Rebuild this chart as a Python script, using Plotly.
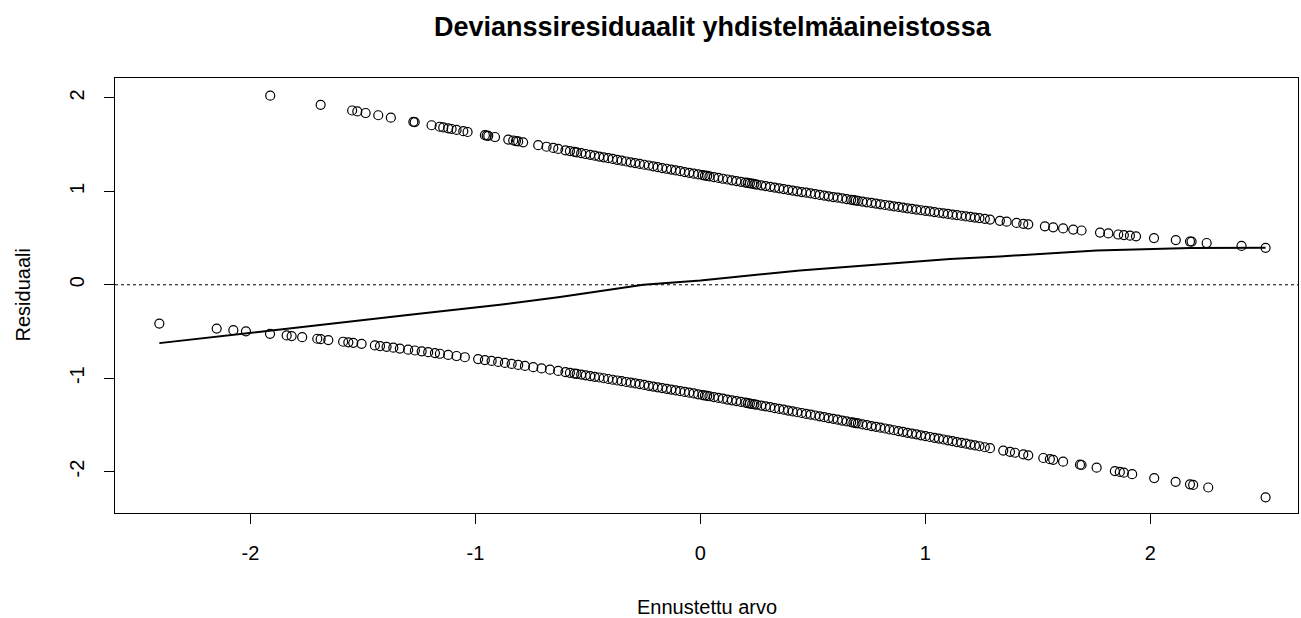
import plotly.graph_objects as go

# Upper band (observed = 1): fitted value and deviance residual
upper_x = [
    -1.912, -1.688, -1.548, -1.525, -1.488, -1.432, -1.376, -1.276, -1.270, -1.195,
    -1.159, -1.143, -1.121, -1.106, -1.084, -1.054, -1.035, -0.958, -0.950, -0.943,
    -0.913, -0.854, -0.832, -0.820, -0.810, -0.788, -0.721, -0.684, -0.654, -0.632,
    -0.60, -0.58, -0.56, -0.55, -0.53, -0.51, -0.49, -0.47, -0.45, -0.43,
    -0.41, -0.39, -0.37, -0.35, -0.33, -0.31, -0.29, -0.27, -0.25, -0.23,
    -0.21, -0.19, -0.17, -0.15, -0.13, -0.11, -0.09, -0.07, -0.05, -0.03,
    -0.01, 0.01, 0.02, 0.03, 0.04, 0.06, 0.08, 0.10, 0.12, 0.14,
    0.16, 0.18, 0.20, 0.21, 0.22, 0.23, 0.24, 0.25, 0.27, 0.29,
    0.31, 0.33, 0.35, 0.37, 0.39, 0.41, 0.43, 0.45, 0.47, 0.49,
    0.51, 0.53, 0.55, 0.57, 0.59, 0.61, 0.63, 0.65, 0.67, 0.68,
    0.69, 0.70, 0.72, 0.74, 0.76, 0.78, 0.80, 0.82, 0.84, 0.86,
    0.88, 0.90, 0.92, 0.94, 0.96, 0.98, 1.00, 1.02, 1.04, 1.06,
    1.08, 1.10, 1.12, 1.14, 1.16, 1.18, 1.20, 1.22, 1.24, 1.264,
    1.287, 1.331, 1.361, 1.405, 1.435, 1.457, 1.531, 1.568, 1.612, 1.657,
    1.694, 1.776, 1.813, 1.857, 1.882, 1.909, 1.936, 2.016, 2.113, 2.176,
    2.183, 2.250, 2.405, 2.512,
]
upper_y = [
    2.025, 1.927, 1.866, 1.856, 1.839, 1.815, 1.789, 1.745, 1.742, 1.708,
    1.692, 1.685, 1.675, 1.668, 1.658, 1.645, 1.636, 1.602, 1.598, 1.595,
    1.582, 1.555, 1.545, 1.539, 1.535, 1.525, 1.495, 1.478, 1.465, 1.455,
    1.440, 1.432, 1.423, 1.418, 1.409, 1.400, 1.391, 1.382, 1.373, 1.365,
    1.356, 1.347, 1.338, 1.329, 1.320, 1.311, 1.303, 1.294, 1.285, 1.277,
    1.268, 1.259, 1.250, 1.242, 1.233, 1.224, 1.216, 1.207, 1.199, 1.190,
    1.181, 1.173, 1.169, 1.165, 1.160, 1.152, 1.144, 1.135, 1.127, 1.118,
    1.110, 1.102, 1.094, 1.090, 1.086, 1.082, 1.078, 1.073, 1.065, 1.057,
    1.049, 1.041, 1.033, 1.025, 1.017, 1.009, 1.001, 0.993, 0.986, 0.978,
    0.970, 0.962, 0.955, 0.947, 0.939, 0.932, 0.924, 0.917, 0.909, 0.906,
    0.902, 0.898, 0.891, 0.883, 0.876, 0.869, 0.861, 0.854, 0.847, 0.840,
    0.833, 0.826, 0.819, 0.812, 0.805, 0.798, 0.792, 0.785, 0.778, 0.771,
    0.765, 0.758, 0.751, 0.745, 0.739, 0.732, 0.726, 0.719, 0.713, 0.706,
    0.698, 0.685, 0.675, 0.662, 0.653, 0.647, 0.626, 0.615, 0.603, 0.591,
    0.581, 0.559, 0.550, 0.538, 0.532, 0.526, 0.519, 0.500, 0.478, 0.463,
    0.462, 0.447, 0.416, 0.395,
]

# Lower band (observed = 0)
lower_x = [
    -2.405, -2.150, -2.076, -2.020, -1.913, -1.839, -1.817, -1.770, -1.703, -1.688,
    -1.654, -1.588, -1.565, -1.543, -1.506, -1.447, -1.424, -1.395, -1.365, -1.336,
    -1.299, -1.269, -1.239, -1.210, -1.180, -1.158, -1.121, -1.084, -1.047, -0.988,
    -0.958, -0.928, -0.899, -0.869, -0.839, -0.810, -0.780, -0.743, -0.706, -0.669,
    -0.632, -0.60, -0.58, -0.56, -0.55, -0.53, -0.51, -0.49, -0.47, -0.45,
    -0.43, -0.41, -0.39, -0.37, -0.35, -0.33, -0.31, -0.29, -0.27, -0.25,
    -0.23, -0.21, -0.19, -0.17, -0.15, -0.13, -0.11, -0.09, -0.07, -0.05,
    -0.03, -0.01, 0.01, 0.02, 0.03, 0.04, 0.06, 0.08, 0.10, 0.12,
    0.14, 0.16, 0.18, 0.20, 0.21, 0.22, 0.23, 0.24, 0.25, 0.27,
    0.29, 0.31, 0.33, 0.35, 0.37, 0.39, 0.41, 0.43, 0.45, 0.47,
    0.49, 0.51, 0.53, 0.55, 0.57, 0.59, 0.61, 0.63, 0.65, 0.67,
    0.68, 0.69, 0.70, 0.72, 0.74, 0.76, 0.78, 0.80, 0.82, 0.84,
    0.86, 0.88, 0.90, 0.92, 0.94, 0.96, 0.98, 1.00, 1.02, 1.04,
    1.06, 1.08, 1.10, 1.12, 1.14, 1.16, 1.18, 1.20, 1.22, 1.24,
    1.264, 1.287, 1.346, 1.376, 1.398, 1.435, 1.457, 1.524, 1.553, 1.568,
    1.612, 1.687, 1.694, 1.761, 1.842, 1.864, 1.882, 1.919, 2.017, 2.112,
    2.176, 2.190, 2.257, 2.512,
]
lower_y = [
    -0.416, -0.469, -0.486, -0.499, -0.525, -0.543, -0.549, -0.561, -0.578, -0.583,
    -0.592, -0.610, -0.616, -0.622, -0.633, -0.650, -0.657, -0.665, -0.674, -0.683,
    -0.695, -0.704, -0.713, -0.722, -0.732, -0.739, -0.751, -0.763, -0.776, -0.796,
    -0.806, -0.816, -0.826, -0.837, -0.848, -0.858, -0.869, -0.882, -0.896, -0.909,
    -0.923, -0.935, -0.943, -0.951, -0.954, -0.962, -0.970, -0.978, -0.986, -0.993,
    -1.001, -1.009, -1.017, -1.025, -1.032, -1.041, -1.049, -1.056, -1.065, -1.073,
    -1.082, -1.090, -1.098, -1.106, -1.114, -1.122, -1.131, -1.139, -1.148, -1.156,
    -1.164, -1.173, -1.182, -1.186, -1.190, -1.194, -1.203, -1.212, -1.220, -1.229,
    -1.237, -1.246, -1.255, -1.263, -1.268, -1.272, -1.277, -1.281, -1.285, -1.294,
    -1.302, -1.311, -1.321, -1.330, -1.338, -1.347, -1.356, -1.365, -1.373, -1.383,
    -1.391, -1.400, -1.409, -1.418, -1.428, -1.436, -1.445, -1.454, -1.463, -1.472,
    -1.476, -1.481, -1.485, -1.495, -1.503, -1.513, -1.521, -1.530, -1.539, -1.549,
    -1.558, -1.567, -1.575, -1.585, -1.594, -1.602, -1.612, -1.621, -1.630, -1.639,
    -1.647, -1.657, -1.666, -1.675, -1.684, -1.693, -1.702, -1.711, -1.720, -1.729,
    -1.740, -1.750, -1.776, -1.789, -1.799, -1.816, -1.826, -1.855, -1.868, -1.875,
    -1.894, -1.927, -1.930, -1.959, -1.995, -2.004, -2.012, -2.028, -2.070, -2.110,
    -2.137, -2.143, -2.171, -2.276,
]

# Smoothed (lowess) curve
smooth_x = [-2.405, -1.824, -1.291, -0.891, -0.624, -0.254, 0.0, 0.442, 0.887,
            1.109, 1.331, 1.761, 2.012, 2.176, 2.512]
smooth_y = [-0.625, -0.464, -0.321, -0.214, -0.13, 0.0, 0.046, 0.153, 0.232,
            0.275, 0.303, 0.367, 0.382, 0.393, 0.395]

x_ticks = [-2, -1, 0, 1, 2]
y_ticks = [-2, -1, 0, 1, 2]

TITLE = "Devianssiresiduaalit yhdistelmäaineistossa"
XLABEL = "Ennustettu arvo"
YLABEL = "Residuaali"

FONT = "Liberation Sans, Arial, sans-serif"

fig = go.Figure()
marker = dict(symbol="circle-open", size=9, color="black", line=dict(width=1.2, color="black"))
fig.add_trace(go.Scatter(x=upper_x, y=upper_y, mode="markers", marker=marker,
                         showlegend=False, hoverinfo="skip"))
fig.add_trace(go.Scatter(x=lower_x, y=lower_y, mode="markers", marker=marker,
                         showlegend=False, hoverinfo="skip"))
fig.add_trace(go.Scatter(x=smooth_x, y=smooth_y, mode="lines",
                         line=dict(color="black", width=2),
                         showlegend=False, hoverinfo="skip"))

fig.add_shape(type="line", xref="paper", yref="y", x0=0, x1=1, y0=0, y1=0,
              line=dict(color="black", width=1, dash="dot"))

axis_common = dict(
    showgrid=False, zeroline=False, showline=True, mirror=True,
    linecolor="black", linewidth=1, automargin=False,
    ticks="outside", ticklen=10, tickwidth=1, tickcolor="black",
    tickfont=dict(family=FONT, size=20, color="black"),
)

fig.update_layout(
    width=1301, height=618,
    margin=dict(l=115, r=3, t=78, b=105, autoexpand=False),
    paper_bgcolor="white", plot_bgcolor="white",
    title=dict(text="<b>" + TITLE + "</b>", x=0.5475, xanchor="center",
               y=1 - 27 / 618, yanchor="middle", yref="container", automargin=False,
               font=dict(family=FONT, size=27, color="black")),
    xaxis=dict(range=[-2.602, 2.656], tickvals=x_ticks,
               ticktext=[str(v) for v in x_ticks],
               ticklabelstandoff=12, **axis_common),
    yaxis=dict(range=[-2.444, 2.214], tickvals=y_ticks,
               ticktext=[str(v) for v in y_ticks], tickangle=-90,
               ticklabelstandoff=12, **axis_common),
    annotations=[
        dict(text=XLABEL, xref="paper", yref="paper", x=0.5, y=0,
             xanchor="center", yanchor="middle", yshift=-94, showarrow=False,
             font=dict(family=FONT, size=20, color="black")),
        dict(text=YLABEL, xref="paper", yref="paper", x=0, y=0.5,
             xanchor="center", yanchor="middle", xshift=-93, textangle=-90,
             showarrow=False, font=dict(family=FONT, size=20, color="black")),
    ],
)

fig.write_html(
    "out.html",
    config={"displayModeBar": False},
    post_script="document.documentElement.style.margin='0';"
                "document.body.style.margin='0';"
                "document.body.style.padding='0';"
                "document.body.style.overflow='hidden';",
)
